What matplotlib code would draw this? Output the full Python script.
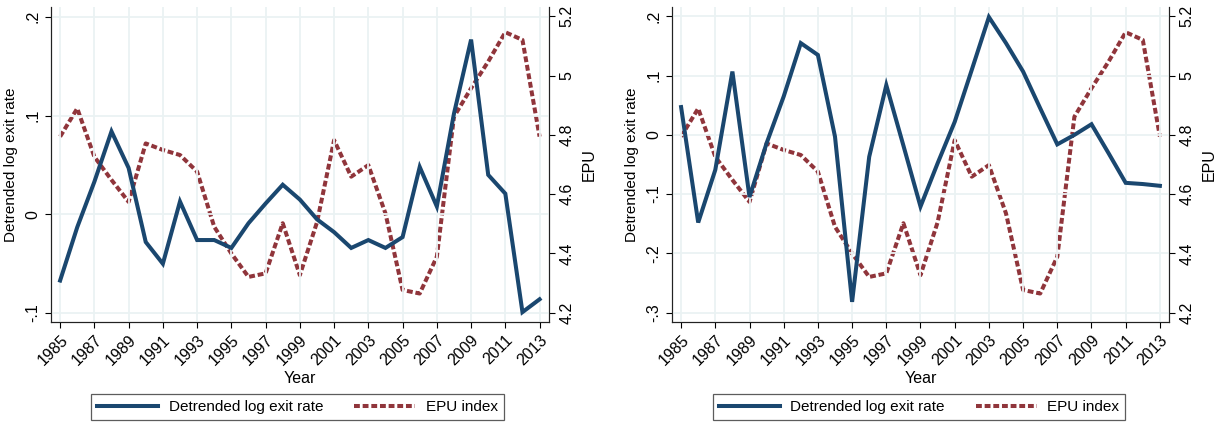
import matplotlib
matplotlib.use("Agg")
from matplotlib import pyplot as plt

years = list(range(1985, 2014))

# detrended log exit rate, left panel
exit_left = [-0.067, -0.013, 0.033, 0.084, 0.047, -0.028, -0.050, 0.013, -0.026, -0.026,
             -0.034, -0.009, 0.011, 0.030, 0.015, -0.005, -0.018, -0.034, -0.026, -0.034,
             -0.023, 0.048, 0.008, 0.102, 0.177, 0.040, 0.021, -0.099, -0.086]

# detrended log exit rate, right panel
exit_right = [0.047, -0.148, -0.059, 0.107, -0.105, -0.014, 0.065, 0.155, 0.135, -0.003,
              -0.282, -0.037, 0.084, -0.018, -0.121, -0.048, 0.022, 0.110, 0.199, 0.155,
              0.107, 0.045, -0.016, 0.000, 0.018, -0.031, -0.081, -0.083, -0.086]

# EPU index (log), same in both panels
epu = [4.794, 4.889, 4.726, 4.648, 4.574, 4.771, 4.749, 4.732, 4.676, 4.490,
       4.400, 4.321, 4.333, 4.502, 4.327, 4.505, 4.782, 4.659, 4.698, 4.535,
       4.277, 4.265, 4.389, 4.861, 4.957, 5.047, 5.146, 5.120, 4.794]

x_ticks = list(range(1985, 2014, 2))
left_ticks = [-0.1, 0, 0.1, 0.2]
left_labels = ['-.1', '0', '.1', '.2']
right_ticks = [-0.3, -0.2, -0.1, 0, 0.1, 0.2]
right_labels = ['-.3', '-.2', '-.1', '0', '.1', '.2']
epu_ticks = [4.2, 4.4, 4.6, 4.8, 5.0, 5.2]
epu_labels = ['4.2', '4.4', '4.6', '4.8', '5', '5.2']

blue = '#1a476f'
red = '#90353b'
grid_col = '#eaf2f3'

plt.rcParams['font.family'] = ['Liberation Sans', 'DejaVu Sans']
plt.rcParams['font.size'] = 11.5

W, H = 1224, 423
fig = plt.figure(figsize=(W / 100, H / 100), dpi=100)


def panel(left_px, right_px, exit_rate, ylim, yticks, ylabels, legend_center):
    ax = fig.add_axes([left_px / W, 1 - 322 / H, (right_px - left_px) / W, 315 / H])
    ax2 = ax.twinx()
    ax.set_zorder(ax2.get_zorder() + 1)
    ax.patch.set_visible(False)

    l1, = ax.plot(years, exit_rate, color=blue, lw=2.9, solid_joinstyle='miter',
                  label='Detrended log exit rate')
    l2, = ax2.plot(years, epu, color=red, lw=2.9, linestyle=(0, (1.45, 0.7)),
                   label='EPU index')
    ax2.set_zorder(0)

    ax.set_xlim(1984.45, 2013.55)
    ax.set_ylim(*ylim)
    ax2.set_ylim(4.169, 5.231)

    ax.set_xticks(x_ticks)
    ax.set_xticklabels([str(y) for y in x_ticks], rotation=45, ha='right',
                       rotation_mode='anchor')
    ax.set_yticks(yticks)
    ax.set_yticklabels(ylabels, rotation=90, va='center')
    ax2.set_yticks(epu_ticks)
    ax2.set_yticklabels(epu_labels, rotation=90, va='center')

    ax.grid(True, color=grid_col, lw=1.3)
    ax.set_axisbelow(True)
    for a in (ax, ax2):
        a.spines['top'].set_visible(False)
        for s in a.spines.values():
            s.set_linewidth(0.8)
            s.set_color('#222222')
        a.tick_params(length=4, width=0.8, colors='black')

    ax.set_xlabel('Year', fontsize=11.5, labelpad=2)
    ax.set_ylabel('Detrended log exit rate', fontsize=11, labelpad=5)
    ax2.set_ylabel('EPU', fontsize=11.5, labelpad=5)

    leg = fig.legend([l1, l2], ['Detrended log exit rate', 'EPU index'], ncol=2,
                     loc='center', bbox_to_anchor=(legend_center / W, 1 - 407 / H),
                     fontsize=11, frameon=True, fancybox=False, edgecolor='#333333',
                     handlelength=4.0, columnspacing=2.0, handletextpad=0.7,
                     borderpad=0.4, borderaxespad=0)
    leg.get_frame().set_linewidth(0.9)
    return ax, ax2


panel(50.7, 549.0, exit_left, (-0.109, 0.21), left_ticks, left_labels, 297.5)
panel(671.7, 1169.3, exit_right, (-0.316, 0.216), right_ticks, right_labels, 919.0)

fig.savefig('out.png', dpi=100)
